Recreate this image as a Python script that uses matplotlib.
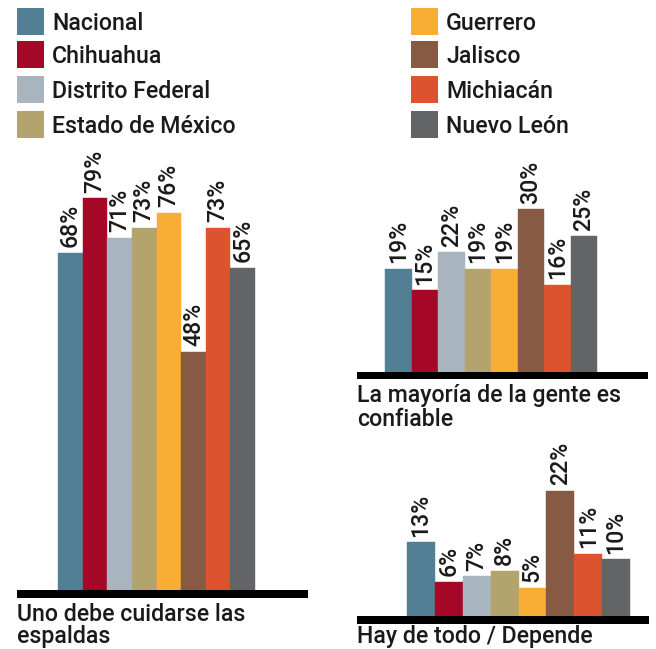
import matplotlib
matplotlib.use("Agg")
import matplotlib.pyplot as plt
from matplotlib.patches import Rectangle

plt.rcParams['font.family'] = ['Roboto', 'DejaVu Sans']
plt.rcParams['font.weight'] = 'medium'

# Datos
estados = ["Nacional", "Chihuahua", "Distrito Federal", "Estado de México",
           "Guerrero", "Jalisco", "Michiacán", "Nuevo León"]
colores = ["#527f94", "#a50726", "#a8b4be", "#b3a46e",
           "#f8ae35", "#875a43", "#dd532d", "#636466"]
cuidarse = [68, 79, 71, 73, 76, 48, 73, 65]
confiable = [19, 15, 22, 19, 19, 30, 16, 25]
depende = [13, 6, 7, 8, 5, 22, 11, 10]

titulo_cuidarse = ["Uno debe cuidarse las", "espaldas"]
titulo_confiable = ["La mayoría de la gente es", "confiable"]
titulo_depende = ["Hay de todo / Depende"]

W, H = 656, 649
TXT = "#1a1a1a"
FS = 16.7

fig = plt.figure(figsize=(W / 100, H / 100), dpi=100)


def fx(x):
    return x / W


def fy(y):
    return 1 - y / H


def panel(valores, x0, x1, barra_izq, barra_der, base, franja, escala, tope,
          titulo, titulo_y, salto):
    """Dibuja un panel de barras con su franja negra y su título."""
    ax = fig.add_axes([fx(x0), fy(base + franja), (x1 - x0) / W,
                       (base + franja - tope) / H])
    unidad = (barra_der - barra_izq) / len(valores)
    ax.set_xlim(-0.5 - (barra_izq - x0) / unidad,
                len(valores) - 0.5 + (x1 - barra_der) / unidad)
    ymin = -franja / escala
    ax.set_ylim(ymin, (base - tope) / escala)
    ax.bar(range(len(valores)), valores, width=1.0, color=colores,
           edgecolor=colores, linewidth=0.3)
    ax.axhspan(ymin, 0, color="black", lw=0)
    for i, v in enumerate(valores):
        ax.annotate(f"{v}%", (i, v), xytext=(0, 4.0),
                    textcoords="offset points", rotation=90,
                    ha="center", va="bottom", fontsize=FS, color=TXT,
                    annotation_clip=False)
    ax.axis("off")
    for k, linea in enumerate(titulo):
        fig.text(fx(x0), fy(titulo_y + k * salto), linea, fontsize=FS,
                 color=TXT, va="baseline", ha="left")


panel(cuidarse, 17, 308, 58, 255, 590, 8, 4.96, 140,
      titulo_cuidarse, 621, 22.5)
panel(confiable, 357, 648, 385, 597, 371.5, 7.5, 5.41, 140,
      titulo_confiable, 402, 24)
panel(depende, 357, 649, 407, 630, 616, 7.5, 5.68, 440,
      titulo_depende, 643, 24)

# Leyenda en dos columnas
filas = [8, 41, 76, 111]
lado = 27
for i, (nombre, color) in enumerate(zip(estados, colores)):
    col, fila = divmod(i, 4)
    xc = 17 if col == 0 else 411
    yt = filas[fila]
    fig.add_artist(Rectangle((fx(xc), fy(yt + lado)), lado / W, lado / H,
                             transform=fig.transFigure, color=color, lw=0))
    fig.text(fx(xc + 35), fy(yt + lado - 5), nombre, fontsize=FS, color=TXT,
             va="baseline", ha="left")

fig.savefig("out.png", dpi=100)
